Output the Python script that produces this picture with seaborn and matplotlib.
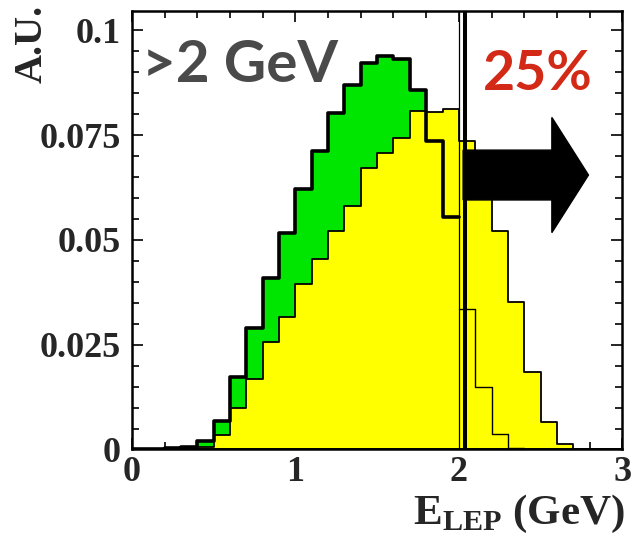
import numpy as np
import pandas as pd
import matplotlib
matplotlib.use("Agg")
import matplotlib.pyplot as plt
from matplotlib.patches import FancyArrow
import seaborn as sns

# 0.1 GeV binning of the lepton energy
bin_edges = [round(0.1 * i, 2) for i in range(31)]
bin_centres = [round(e + 0.05, 3) for e in bin_edges[:-1]]

# normalised spectra (A.U.), one entry per bin
green_values = [0.0, 0.0002, 0.0004, 0.0006, 0.0021, 0.0069, 0.0174, 0.0291, 0.0410, 0.0517,
                0.0621, 0.0712, 0.0803, 0.0871, 0.0922, 0.0938, 0.0932, 0.0857, 0.0737, 0.0554,
                0.0335, 0.0148, 0.0037, 0.0004, 0.0, 0.0, 0.0, 0.0, 0.0, 0.0]
yellow_values = [0.0, 0.0, 0.0, 0.0002, 0.0006, 0.0035, 0.0099, 0.0168, 0.0256, 0.0315,
                 0.0395, 0.0454, 0.0521, 0.0581, 0.0672, 0.0708, 0.0744, 0.0808, 0.0806, 0.0813,
                 0.0736, 0.0640, 0.0521, 0.0351, 0.0184, 0.0065, 0.0014, 0.0, 0.0, 0.0]

# energy cut
cut_value = 2.0
cut_marker = 2.035

x_ticks = [0, 1, 2, 3]
x_tick_labels = ["0", "1", "2", "3"]
y_ticks = [0, 0.025, 0.05, 0.075, 0.1]
y_tick_labels = ["0", "0.025", "0.05", "0.075", "0.1"]

GREEN = "#00e600"
YELLOW = "#ffff00"

df = pd.DataFrame({"E": bin_centres, "green": green_values, "yellow": yellow_values})
below = df[df["E"] < cut_value]
above = df[df["E"] > cut_value]
edges_below = [e for e in bin_edges if e <= cut_value]
edges_above = [e for e in bin_edges if e >= cut_value]

sns.set_style("ticks")
plt.rcParams["font.family"] = ["Liberation Serif", "DejaVu Serif"]
plt.rcParams["mathtext.fontset"] = "custom"
plt.rcParams["mathtext.rm"] = "Liberation Serif:bold"
plt.rcParams["mathtext.bf"] = "Liberation Serif:bold"

fig = plt.figure(figsize=(6.33, 5.36), dpi=100)
ax = fig.add_axes([0.2085, 0.1614, 0.7746, 0.8181])

# green spectrum: fill first, outline drawn on top of the yellow one
sns.histplot(data=df, x="E", weights="green", bins=bin_edges, element="step",
             fill=True, color=GREEN, alpha=1, linewidth=0, ax=ax, zorder=1)
sns.histplot(data=df, x="E", weights="yellow", bins=bin_edges, element="step",
             fill=True, color=YELLOW, alpha=1, edgecolor="black", linewidth=1.3,
             ax=ax, zorder=2)
sns.histplot(data=below, x="E", weights="green", bins=edges_below,
             element="step", fill=False, color="black", linewidth=2.6, ax=ax, zorder=3)
sns.histplot(data=above, x="E", weights="green", bins=edges_above,
             element="step", fill=False, color="black", linewidth=1.0, ax=ax, zorder=3)

# cut lines
ax.axvline(cut_value, color="black", linewidth=0.9, zorder=4)
ax.axvline(cut_marker, color="black", linewidth=2.9, zorder=4)

# arrow pointing to the accepted region
ax.add_patch(FancyArrow(2.026, 0.0655, 0.767, 0.0, width=0.0119, head_width=0.0275,
                        head_length=0.224, length_includes_head=True,
                        color="black", zorder=5))

ax.text(0.060, 0.0877, ">2 GeV", family=["Lato", "DejaVu Sans"], fontweight="bold",
        fontsize=42, color="#4a4a4a", ha="left", va="baseline", zorder=6)
ax.text(2.145, 0.0858, "25%", family=["Lato", "DejaVu Sans"], fontweight="bold",
        fontsize=40, color="#d22a16", ha="left", va="baseline", zorder=6)

ax.set_xlim(0, 3)
ax.set_ylim(0, 0.10465)
ax.set_xticks(x_ticks)
ax.set_xticklabels(x_tick_labels)
ax.set_xticks(np.arange(0, 3.001, 0.2), minor=True)
ax.set_yticks(y_ticks)
ax.set_yticklabels(y_tick_labels)
ax.set_yticks(np.arange(0, 0.1041, 0.005), minor=True)

ax.tick_params(which="both", direction="in", top=True, right=True, width=1.2,
               color="black")
ax.tick_params(which="major", length=8)
ax.tick_params(which="minor", length=5)
ax.tick_params(axis="x", which="major", pad=5)
ax.tick_params(axis="y", which="major", pad=8)
for lab in ax.get_xticklabels() + ax.get_yticklabels():
    lab.set_fontsize(26)
    lab.set_fontweight("bold")

for sp in ax.spines.values():
    sp.set_linewidth(1.8)
    sp.set_color("black")
    sp.set_zorder(7)

ax.set_xlabel(r"E$_{\mathbf{LEP}}$ (GeV)", fontsize=31, fontweight="bold", loc="right")
ax.xaxis.set_label_coords(1.005, -0.098)
ax.set_ylabel("A.U.", fontsize=29, fontweight="bold", loc="top")
ax.yaxis.set_label_coords(-0.165, 1.015)

fig.savefig("out.png", dpi=100)
